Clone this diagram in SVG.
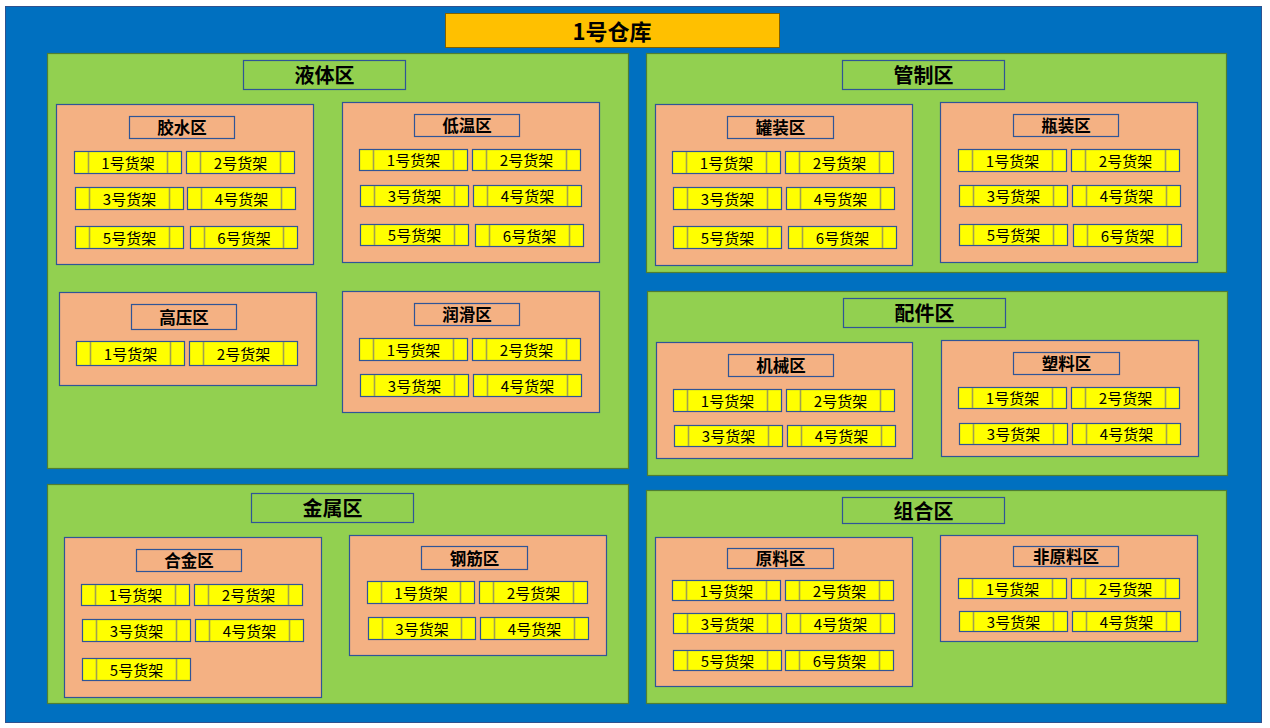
<svg xmlns="http://www.w3.org/2000/svg" width="1270" height="728" viewBox="0 0 1270 728">
<style>
.bg{fill:#0070C0;stroke:#2F528F;stroke-width:1}
.title{fill:#FFC000;stroke:#7F6000;stroke-width:1}
.panel{fill:#92D050;stroke:#507E32;stroke-width:1.2}
.ph{fill:#92D050;stroke:#2F5597;stroke-width:1.2}
.zone{fill:#F4B183;stroke:#2F5597;stroke-width:1.2}
.zh{fill:#F4B183;stroke:#2F5597;stroke-width:1.2}
.shelf{fill:#FFFF00;stroke:#2F5597;stroke-width:1.2}
.sl{stroke:#A0A050;stroke-width:1.6}
text{font-family:"Noto Sans CJK SC","Microsoft YaHei",sans-serif;text-anchor:middle;dominant-baseline:central;fill:#000}
.tt{font-size:22px;font-weight:bold}
.pt{font-size:20px;font-weight:bold}
.zt{font-size:16.5px;font-weight:bold}
.st{font-size:15px}
</style>
<rect class="bg" x="5.5" y="6.5" width="1256" height="716"/>
<g id="title"><rect class="title" x="445.5" y="13.5" width="334" height="34"/><text class="tt" x="612" y="30">1号仓库</text></g>
<g id="connectors"/>

<g id="panel-liquid">
<rect class="panel" x="47.5" y="53.5" width="581" height="415"/>
<rect class="ph" x="243.5" y="60.5" width="162" height="29"/><text class="pt" x="324.5" y="74.5">液体区</text>
</g>
<g id="panel-control">
<rect class="panel" x="646.5" y="53.5" width="580" height="219"/>
<rect class="ph" x="842.5" y="60.5" width="162" height="29"/><text class="pt" x="923.5" y="74.5">管制区</text>
</g>
<g id="panel-parts">
<rect class="panel" x="647.5" y="291.5" width="580" height="184"/>
<rect class="ph" x="843.5" y="298.5" width="162" height="29"/><text class="pt" x="924.5" y="312.5">配件区</text>
</g>
<g id="panel-metal">
<rect class="panel" x="47.5" y="484.5" width="581" height="219"/>
<rect class="ph" x="251.5" y="493.5" width="162" height="29"/><text class="pt" x="332.5" y="507.5">金属区</text>
</g>
<g id="panel-combo">
<rect class="panel" x="646.5" y="490.5" width="580" height="213"/>
<rect class="ph" x="842.5" y="497.5" width="162" height="26"/><text class="pt" x="923.5" y="510">组合区</text>
</g>

<g id="zone-glue">
<rect class="zone" x="56.5" y="104.5" width="257" height="160"/>
<rect class="zh" x="129.5" y="116.5" width="105" height="22"/><text class="zt" x="182" y="127">胶水区</text>
<g id="glue-1"><rect class="shelf" x="74.5" y="151.5" width="107" height="22"/><line class="sl" x1="88.5" y1="152" x2="88.5" y2="173"/><line class="sl" x1="167.5" y1="152" x2="167.5" y2="173"/><text class="st" x="128" y="162">1号货架</text></g>
<g id="glue-2"><rect class="shelf" x="186.5" y="151.5" width="108" height="22"/><line class="sl" x1="200.5" y1="152" x2="200.5" y2="173"/><line class="sl" x1="280.5" y1="152" x2="280.5" y2="173"/><text class="st" x="240.5" y="162">2号货架</text></g>
<g id="glue-3"><rect class="shelf" x="75.5" y="187.5" width="108" height="22"/><line class="sl" x1="89.5" y1="188" x2="89.5" y2="209"/><line class="sl" x1="169.5" y1="188" x2="169.5" y2="209"/><text class="st" x="129.5" y="198">3号货架</text></g>
<g id="glue-4"><rect class="shelf" x="187.5" y="187.5" width="108" height="22"/><line class="sl" x1="201.5" y1="188" x2="201.5" y2="209"/><line class="sl" x1="281.5" y1="188" x2="281.5" y2="209"/><text class="st" x="241.5" y="198">4号货架</text></g>
<g id="glue-5"><rect class="shelf" x="75.5" y="226.5" width="108" height="22"/><line class="sl" x1="89.5" y1="227" x2="89.5" y2="248"/><line class="sl" x1="169.5" y1="227" x2="169.5" y2="248"/><text class="st" x="129.5" y="237">5号货架</text></g>
<g id="glue-6"><rect class="shelf" x="190.5" y="226.5" width="107" height="22"/><line class="sl" x1="204.5" y1="227" x2="204.5" y2="248"/><line class="sl" x1="283.5" y1="227" x2="283.5" y2="248"/><text class="st" x="244" y="237">6号货架</text></g>
</g>

<g id="zone-cold">
<rect class="zone" x="342.5" y="102.5" width="257" height="160"/>
<rect class="zh" x="414.5" y="114.5" width="105" height="22"/><text class="zt" x="467" y="125">低温区</text>
<g id="cold-1"><rect class="shelf" x="359.5" y="149.5" width="108" height="21"/><line class="sl" x1="373.5" y1="150" x2="373.5" y2="170"/><line class="sl" x1="453.5" y1="150" x2="453.5" y2="170"/><text class="st" x="413.5" y="159.5">1号货架</text></g>
<g id="cold-2"><rect class="shelf" x="472.5" y="149.5" width="108" height="21"/><line class="sl" x1="486.5" y1="150" x2="486.5" y2="170"/><line class="sl" x1="566.5" y1="150" x2="566.5" y2="170"/><text class="st" x="526.5" y="159.5">2号货架</text></g>
<g id="cold-3"><rect class="shelf" x="360.5" y="185.5" width="108" height="21"/><line class="sl" x1="374.5" y1="186" x2="374.5" y2="206"/><line class="sl" x1="454.5" y1="186" x2="454.5" y2="206"/><text class="st" x="414.5" y="195.5">3号货架</text></g>
<g id="cold-4"><rect class="shelf" x="473.5" y="185.5" width="108" height="21"/><line class="sl" x1="487.5" y1="186" x2="487.5" y2="206"/><line class="sl" x1="567.5" y1="186" x2="567.5" y2="206"/><text class="st" x="527.5" y="195.5">4号货架</text></g>
<g id="cold-5"><rect class="shelf" x="360.5" y="224.5" width="108" height="21"/><line class="sl" x1="374.5" y1="225" x2="374.5" y2="245"/><line class="sl" x1="454.5" y1="225" x2="454.5" y2="245"/><text class="st" x="414.5" y="234.5">5号货架</text></g>
<g id="cold-6"><rect class="shelf" x="475.5" y="224.5" width="108" height="22"/><line class="sl" x1="489.5" y1="225" x2="489.5" y2="246"/><line class="sl" x1="569.5" y1="225" x2="569.5" y2="246"/><text class="st" x="529.5" y="235">6号货架</text></g>
</g>

<g id="zone-pressure">
<rect class="zone" x="59.5" y="292.5" width="257" height="93"/>
<rect class="zh" x="131.5" y="304.5" width="105" height="25"/><text class="zt" x="184" y="316.5">高压区</text>
<g id="pressure-1"><rect class="shelf" x="76.5" y="341.5" width="108" height="24"/><line class="sl" x1="90.5" y1="342" x2="90.5" y2="365"/><line class="sl" x1="170.5" y1="342" x2="170.5" y2="365"/><text class="st" x="130.5" y="353">1号货架</text></g>
<g id="pressure-2"><rect class="shelf" x="189.5" y="341.5" width="108" height="24"/><line class="sl" x1="203.5" y1="342" x2="203.5" y2="365"/><line class="sl" x1="283.5" y1="342" x2="283.5" y2="365"/><text class="st" x="243.5" y="353">2号货架</text></g>
</g>

<g id="zone-lube">
<rect class="zone" x="342.5" y="291.5" width="257" height="121"/>
<rect class="zh" x="414.5" y="303.5" width="105" height="22"/><text class="zt" x="467" y="314">润滑区</text>
<g id="lube-1"><rect class="shelf" x="359.5" y="338.5" width="108" height="22"/><line class="sl" x1="373.5" y1="339" x2="373.5" y2="360"/><line class="sl" x1="453.5" y1="339" x2="453.5" y2="360"/><text class="st" x="413.5" y="349">1号货架</text></g>
<g id="lube-2"><rect class="shelf" x="472.5" y="338.5" width="108" height="22"/><line class="sl" x1="486.5" y1="339" x2="486.5" y2="360"/><line class="sl" x1="566.5" y1="339" x2="566.5" y2="360"/><text class="st" x="526.5" y="349">2号货架</text></g>
<g id="lube-3"><rect class="shelf" x="360.5" y="374.5" width="108" height="22"/><line class="sl" x1="374.5" y1="375" x2="374.5" y2="396"/><line class="sl" x1="454.5" y1="375" x2="454.5" y2="396"/><text class="st" x="414.5" y="385">3号货架</text></g>
<g id="lube-4"><rect class="shelf" x="473.5" y="374.5" width="108" height="22"/><line class="sl" x1="487.5" y1="375" x2="487.5" y2="396"/><line class="sl" x1="567.5" y1="375" x2="567.5" y2="396"/><text class="st" x="527.5" y="385">4号货架</text></g>
</g>

<g id="zone-can">
<rect class="zone" x="655.5" y="104.5" width="257" height="161"/>
<rect class="zh" x="727.5" y="116.5" width="106" height="22"/><text class="zt" x="780.5" y="127">罐装区</text>
<g id="can-1"><rect class="shelf" x="672.5" y="151.5" width="108" height="22"/><line class="sl" x1="686.5" y1="152" x2="686.5" y2="173"/><line class="sl" x1="766.5" y1="152" x2="766.5" y2="173"/><text class="st" x="726.5" y="162">1号货架</text></g>
<g id="can-2"><rect class="shelf" x="785.5" y="151.5" width="108" height="22"/><line class="sl" x1="799.5" y1="152" x2="799.5" y2="173"/><line class="sl" x1="879.5" y1="152" x2="879.5" y2="173"/><text class="st" x="839.5" y="162">2号货架</text></g>
<g id="can-3"><rect class="shelf" x="673.5" y="187.5" width="108" height="22"/><line class="sl" x1="687.5" y1="188" x2="687.5" y2="209"/><line class="sl" x1="767.5" y1="188" x2="767.5" y2="209"/><text class="st" x="727.5" y="198">3号货架</text></g>
<g id="can-4"><rect class="shelf" x="786.5" y="187.5" width="108" height="22"/><line class="sl" x1="800.5" y1="188" x2="800.5" y2="209"/><line class="sl" x1="880.5" y1="188" x2="880.5" y2="209"/><text class="st" x="840.5" y="198">4号货架</text></g>
<g id="can-5"><rect class="shelf" x="673.5" y="226.5" width="108" height="22"/><line class="sl" x1="687.5" y1="227" x2="687.5" y2="248"/><line class="sl" x1="767.5" y1="227" x2="767.5" y2="248"/><text class="st" x="727.5" y="237">5号货架</text></g>
<g id="can-6"><rect class="shelf" x="788.5" y="226.5" width="108" height="22"/><line class="sl" x1="802.5" y1="227" x2="802.5" y2="248"/><line class="sl" x1="882.5" y1="227" x2="882.5" y2="248"/><text class="st" x="842.5" y="237">6号货架</text></g>
</g>

<g id="zone-bottle">
<rect class="zone" x="940.5" y="102.5" width="257" height="160"/>
<rect class="zh" x="1013.5" y="114.5" width="105" height="22"/><text class="zt" x="1066" y="125">瓶装区</text>
<g id="bottle-1"><rect class="shelf" x="958.5" y="149.5" width="108" height="22"/><line class="sl" x1="972.5" y1="150" x2="972.5" y2="171"/><line class="sl" x1="1052.5" y1="150" x2="1052.5" y2="171"/><text class="st" x="1012.5" y="160">1号货架</text></g>
<g id="bottle-2"><rect class="shelf" x="1071.5" y="149.5" width="108" height="22"/><line class="sl" x1="1085.5" y1="150" x2="1085.5" y2="171"/><line class="sl" x1="1165.5" y1="150" x2="1165.5" y2="171"/><text class="st" x="1125.5" y="160">2号货架</text></g>
<g id="bottle-3"><rect class="shelf" x="959.5" y="185.5" width="108" height="21"/><line class="sl" x1="973.5" y1="186" x2="973.5" y2="206"/><line class="sl" x1="1053.5" y1="186" x2="1053.5" y2="206"/><text class="st" x="1013.5" y="195.5">3号货架</text></g>
<g id="bottle-4"><rect class="shelf" x="1072.5" y="185.5" width="108" height="21"/><line class="sl" x1="1086.5" y1="186" x2="1086.5" y2="206"/><line class="sl" x1="1166.5" y1="186" x2="1166.5" y2="206"/><text class="st" x="1126.5" y="195.5">4号货架</text></g>
<g id="bottle-5"><rect class="shelf" x="959.5" y="224.5" width="108" height="21"/><line class="sl" x1="973.5" y1="225" x2="973.5" y2="245"/><line class="sl" x1="1053.5" y1="225" x2="1053.5" y2="245"/><text class="st" x="1013.5" y="234.5">5号货架</text></g>
<g id="bottle-6"><rect class="shelf" x="1073.5" y="224.5" width="108" height="22"/><line class="sl" x1="1087.5" y1="225" x2="1087.5" y2="246"/><line class="sl" x1="1167.5" y1="225" x2="1167.5" y2="246"/><text class="st" x="1127.5" y="235">6号货架</text></g>
</g>

<g id="zone-machine">
<rect class="zone" x="656.5" y="342.5" width="256" height="116"/>
<rect class="zh" x="728.5" y="354.5" width="105" height="22"/><text class="zt" x="781" y="365">机械区</text>
<g id="machine-1"><rect class="shelf" x="673.5" y="389.5" width="108" height="22"/><line class="sl" x1="687.5" y1="390" x2="687.5" y2="411"/><line class="sl" x1="767.5" y1="390" x2="767.5" y2="411"/><text class="st" x="727.5" y="400">1号货架</text></g>
<g id="machine-2"><rect class="shelf" x="786.5" y="389.5" width="108" height="22"/><line class="sl" x1="800.5" y1="390" x2="800.5" y2="411"/><line class="sl" x1="880.5" y1="390" x2="880.5" y2="411"/><text class="st" x="840.5" y="400">2号货架</text></g>
<g id="machine-3"><rect class="shelf" x="674.5" y="425.5" width="108" height="21"/><line class="sl" x1="688.5" y1="426" x2="688.5" y2="446"/><line class="sl" x1="768.5" y1="426" x2="768.5" y2="446"/><text class="st" x="728.5" y="435.5">3号货架</text></g>
<g id="machine-4"><rect class="shelf" x="787.5" y="425.5" width="108" height="21"/><line class="sl" x1="801.5" y1="426" x2="801.5" y2="446"/><line class="sl" x1="881.5" y1="426" x2="881.5" y2="446"/><text class="st" x="841.5" y="435.5">4号货架</text></g>
</g>

<g id="zone-plastic">
<rect class="zone" x="941.5" y="340.5" width="257" height="116"/>
<rect class="zh" x="1013.5" y="352.5" width="106" height="22"/><text class="zt" x="1066.5" y="363">塑料区</text>
<g id="plastic-1"><rect class="shelf" x="958.5" y="387.5" width="108" height="21"/><line class="sl" x1="972.5" y1="388" x2="972.5" y2="408"/><line class="sl" x1="1052.5" y1="388" x2="1052.5" y2="408"/><text class="st" x="1012.5" y="397.5">1号货架</text></g>
<g id="plastic-2"><rect class="shelf" x="1071.5" y="387.5" width="108" height="21"/><line class="sl" x1="1085.5" y1="388" x2="1085.5" y2="408"/><line class="sl" x1="1165.5" y1="388" x2="1165.5" y2="408"/><text class="st" x="1125.5" y="397.5">2号货架</text></g>
<g id="plastic-3"><rect class="shelf" x="959.5" y="423.5" width="108" height="21"/><line class="sl" x1="973.5" y1="424" x2="973.5" y2="444"/><line class="sl" x1="1053.5" y1="424" x2="1053.5" y2="444"/><text class="st" x="1013.5" y="433.5">3号货架</text></g>
<g id="plastic-4"><rect class="shelf" x="1072.5" y="423.5" width="108" height="21"/><line class="sl" x1="1086.5" y1="424" x2="1086.5" y2="444"/><line class="sl" x1="1166.5" y1="424" x2="1166.5" y2="444"/><text class="st" x="1126.5" y="433.5">4号货架</text></g>
</g>

<g id="zone-alloy">
<rect class="zone" x="64.5" y="537.5" width="257" height="160"/>
<rect class="zh" x="136.5" y="549.5" width="105" height="22"/><text class="zt" x="189" y="560">合金区</text>
<g id="alloy-1"><rect class="shelf" x="81.5" y="584.5" width="108" height="21"/><line class="sl" x1="95.5" y1="585" x2="95.5" y2="605"/><line class="sl" x1="175.5" y1="585" x2="175.5" y2="605"/><text class="st" x="135.5" y="594.5">1号货架</text></g>
<g id="alloy-2"><rect class="shelf" x="194.5" y="584.5" width="108" height="21"/><line class="sl" x1="208.5" y1="585" x2="208.5" y2="605"/><line class="sl" x1="288.5" y1="585" x2="288.5" y2="605"/><text class="st" x="248.5" y="594.5">2号货架</text></g>
<g id="alloy-3"><rect class="shelf" x="82.5" y="619.5" width="108" height="22"/><line class="sl" x1="96.5" y1="620" x2="96.5" y2="641"/><line class="sl" x1="176.5" y1="620" x2="176.5" y2="641"/><text class="st" x="136.5" y="630">3号货架</text></g>
<g id="alloy-4"><rect class="shelf" x="195.5" y="619.5" width="108" height="22"/><line class="sl" x1="209.5" y1="620" x2="209.5" y2="641"/><line class="sl" x1="289.5" y1="620" x2="289.5" y2="641"/><text class="st" x="249.5" y="630">4号货架</text></g>
<g id="alloy-5"><rect class="shelf" x="82.5" y="658.5" width="108" height="22"/><line class="sl" x1="96.5" y1="659" x2="96.5" y2="680"/><line class="sl" x1="176.5" y1="659" x2="176.5" y2="680"/><text class="st" x="136.5" y="669">5号货架</text></g>
</g>

<g id="zone-rebar">
<rect class="zone" x="349.5" y="535.5" width="257" height="120"/>
<rect class="zh" x="421.5" y="546.5" width="106" height="23"/><text class="zt" x="474.5" y="557.5">钢筋区</text>
<g id="rebar-1"><rect class="shelf" x="367.5" y="581.5" width="107" height="22"/><line class="sl" x1="381.5" y1="582" x2="381.5" y2="603"/><line class="sl" x1="460.5" y1="582" x2="460.5" y2="603"/><text class="st" x="421" y="592">1号货架</text></g>
<g id="rebar-2"><rect class="shelf" x="479.5" y="581.5" width="108" height="22"/><line class="sl" x1="493.5" y1="582" x2="493.5" y2="603"/><line class="sl" x1="573.5" y1="582" x2="573.5" y2="603"/><text class="st" x="533.5" y="592">2号货架</text></g>
<g id="rebar-3"><rect class="shelf" x="368.5" y="617.5" width="107" height="22"/><line class="sl" x1="382.5" y1="618" x2="382.5" y2="639"/><line class="sl" x1="461.5" y1="618" x2="461.5" y2="639"/><text class="st" x="422" y="628">3号货架</text></g>
<g id="rebar-4"><rect class="shelf" x="480.5" y="617.5" width="108" height="22"/><line class="sl" x1="494.5" y1="618" x2="494.5" y2="639"/><line class="sl" x1="574.5" y1="618" x2="574.5" y2="639"/><text class="st" x="534.5" y="628">4号货架</text></g>
</g>

<g id="zone-raw">
<rect class="zone" x="655.5" y="537.5" width="257" height="149"/>
<rect class="zh" x="727.5" y="548.5" width="106" height="20"/><text class="zt" x="780.5" y="558">原料区</text>
<g id="raw-1"><rect class="shelf" x="672.5" y="580.5" width="108" height="20"/><line class="sl" x1="686.5" y1="581" x2="686.5" y2="600"/><line class="sl" x1="766.5" y1="581" x2="766.5" y2="600"/><text class="st" x="726.5" y="590">1号货架</text></g>
<g id="raw-2"><rect class="shelf" x="785.5" y="580.5" width="108" height="20"/><line class="sl" x1="799.5" y1="581" x2="799.5" y2="600"/><line class="sl" x1="879.5" y1="581" x2="879.5" y2="600"/><text class="st" x="839.5" y="590">2号货架</text></g>
<g id="raw-3"><rect class="shelf" x="673.5" y="613.5" width="108" height="20"/><line class="sl" x1="687.5" y1="614" x2="687.5" y2="633"/><line class="sl" x1="767.5" y1="614" x2="767.5" y2="633"/><text class="st" x="727.5" y="623">3号货架</text></g>
<g id="raw-4"><rect class="shelf" x="786.5" y="613.5" width="108" height="20"/><line class="sl" x1="800.5" y1="614" x2="800.5" y2="633"/><line class="sl" x1="880.5" y1="614" x2="880.5" y2="633"/><text class="st" x="840.5" y="623">4号货架</text></g>
<g id="raw-5"><rect class="shelf" x="673.5" y="650.5" width="108" height="20"/><line class="sl" x1="687.5" y1="651" x2="687.5" y2="670"/><line class="sl" x1="767.5" y1="651" x2="767.5" y2="670"/><text class="st" x="727.5" y="660">5号货架</text></g>
<g id="raw-6"><rect class="shelf" x="785.5" y="650.5" width="108" height="20"/><line class="sl" x1="799.5" y1="651" x2="799.5" y2="670"/><line class="sl" x1="879.5" y1="651" x2="879.5" y2="670"/><text class="st" x="839.5" y="660">6号货架</text></g>
</g>

<g id="zone-nonraw">
<rect class="zone" x="940.5" y="535.5" width="257" height="106"/>
<rect class="zh" x="1013.5" y="546.5" width="105" height="20"/><text class="zt" x="1066" y="556">非原料区</text>
<g id="nonraw-1"><rect class="shelf" x="958.5" y="578.5" width="108" height="20"/><line class="sl" x1="972.5" y1="579" x2="972.5" y2="598"/><line class="sl" x1="1052.5" y1="579" x2="1052.5" y2="598"/><text class="st" x="1012.5" y="588">1号货架</text></g>
<g id="nonraw-2"><rect class="shelf" x="1071.5" y="578.5" width="108" height="20"/><line class="sl" x1="1085.5" y1="579" x2="1085.5" y2="598"/><line class="sl" x1="1165.5" y1="579" x2="1165.5" y2="598"/><text class="st" x="1125.5" y="588">2号货架</text></g>
<g id="nonraw-3"><rect class="shelf" x="959.5" y="611.5" width="108" height="20"/><line class="sl" x1="973.5" y1="612" x2="973.5" y2="631"/><line class="sl" x1="1053.5" y1="612" x2="1053.5" y2="631"/><text class="st" x="1013.5" y="621">3号货架</text></g>
<g id="nonraw-4"><rect class="shelf" x="1072.5" y="611.5" width="108" height="20"/><line class="sl" x1="1086.5" y1="612" x2="1086.5" y2="631"/><line class="sl" x1="1166.5" y1="612" x2="1166.5" y2="631"/><text class="st" x="1126.5" y="621">4号货架</text></g>
</g>
</svg>
